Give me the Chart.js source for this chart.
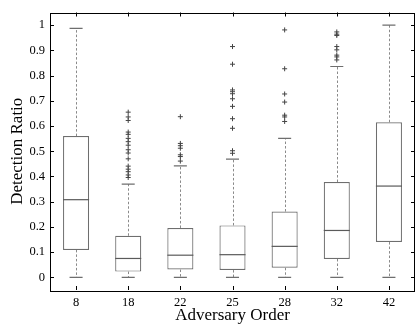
<!DOCTYPE html>
<html>
<head>
<meta charset="utf-8">
<script src="https://cdn.jsdelivr.net/npm/chart.js@4/dist/chart.umd.min.js"></script>
<style>html,body{margin:0;padding:0;background:#fff;}canvas{display:block;}</style>
</head>
<body>
<canvas id="c" width="420" height="331"></canvas>
<script>
const categories = ['8', '18', '22', '25', '28', '32', '42'];
const whiskerLow = [0, 0, 0, 0, 0, 0, 0];
const q1 = [0.109, 0.023, 0.031, 0.029, 0.038, 0.073, 0.140];
const median = [0.308, 0.075, 0.088, 0.090, 0.123, 0.186, 0.362];
const q3 = [0.560, 0.165, 0.196, 0.206, 0.261, 0.378, 0.615];
const whiskerHigh = [0.987, 0.370, 0.442, 0.469, 0.551, 0.836, 1.0];
const outliers8 = [];
const outliers18 = [0.655, 0.636, 0.622, 0.576, 0.567, 0.551, 0.538, 0.524, 0.506, 0.493, 0.470, 0.441, 0.429, 0.419, 0.406, 0.396];
const outliers22 = [0.637, 0.531, 0.522, 0.512, 0.486, 0.479, 0.461];
const outliers25 = [0.915, 0.845, 0.743, 0.736, 0.728, 0.708, 0.678, 0.629, 0.591, 0.502, 0.492];
const outliers28 = [0.981, 0.827, 0.727, 0.695, 0.643, 0.636, 0.618];
const outliers32 = [0.973, 0.964, 0.959, 0.915, 0.902, 0.881, 0.874, 0.862];
const outliers42 = [];
const yTickValues = [0, 0.1, 0.2, 0.3, 0.4, 0.5, 0.6, 0.7, 0.8, 0.9, 1];
const yTickLabels = ['0', '0.1', '0.2', '0.3', '0.4', '0.5', '0.6', '0.7', '0.8', '0.9', '1'];
const xTitle = 'Adversary Order';
const yTitle = 'Detection Ratio';

const outlierSets = [outliers8, outliers18, outliers22, outliers25, outliers28, outliers32, outliers42];
const outlierPoints = [];
outlierSets.forEach((arr, i) => arr.forEach(v => outlierPoints.push({x: categories[i], y: v})));

const FONT = "'Liberation Serif', 'Times New Roman', serif";
const BOX_COLOR = '#6e6e6e';
const WHISK_COLOR = '#8a8a8a';

const boxPlugin = {
  id: 'boxParts',
  beforeDatasetsDraw(chart) {
    const ctx = chart.ctx;
    const xs = chart.scales.x, ys = chart.scales.y;
    const meta = chart.getDatasetMeta(0);
    ctx.save();
    categories.forEach((c, i) => {
      const bar = meta.data[i];
      const x = xs.getPixelForValue(i);
      const half = bar.width / 2;
      const cap = half / 2;
      ctx.strokeStyle = WHISK_COLOR;
      ctx.lineWidth = 1;
      ctx.setLineDash([2.5, 2]);
      ctx.beginPath();
      ctx.moveTo(Math.round(x) + 0.5, ys.getPixelForValue(q3[i]));
      ctx.lineTo(Math.round(x) + 0.5, ys.getPixelForValue(whiskerHigh[i]));
      ctx.moveTo(Math.round(x) + 0.5, ys.getPixelForValue(q1[i]));
      ctx.lineTo(Math.round(x) + 0.5, ys.getPixelForValue(whiskerLow[i]));
      ctx.stroke();
      ctx.setLineDash([]);
      ctx.strokeStyle = BOX_COLOR;
      ctx.lineWidth = 1.2;
      ctx.beginPath();
      [whiskerHigh[i], whiskerLow[i]].forEach(v => {
        const y = ys.getPixelForValue(v);
        ctx.moveTo(x - cap, y);
        ctx.lineTo(x + cap, y);
      });
      ctx.stroke();
    });
    ctx.restore();
  },
  afterDatasetsDraw(chart) {
    const ctx = chart.ctx;
    const xs = chart.scales.x, ys = chart.scales.y;
    const meta = chart.getDatasetMeta(0);
    ctx.save();
    ctx.strokeStyle = '#5a5a5a';
    ctx.lineWidth = 1.2;
    categories.forEach((c, i) => {
      const bar = meta.data[i];
      const x = xs.getPixelForValue(i);
      const half = bar.width / 2;
      const y = ys.getPixelForValue(median[i]);
      ctx.beginPath();
      ctx.moveTo(x - half, y);
      ctx.lineTo(x + half, y);
      ctx.stroke();
    });
    // frame and inward ticks
    const a = chart.chartArea;
    ctx.strokeStyle = '#000';
    ctx.lineWidth = 1;
    ctx.strokeRect(Math.round(a.left) + 0.5, Math.round(a.top) + 0.5, Math.round(a.right - a.left) - 1, Math.round(a.bottom - a.top));
    ctx.beginPath();
    const tl = 4;
    yTickValues.forEach(v => {
      const y = Math.round(ys.getPixelForValue(v)) + 0.5;
      ctx.moveTo(a.left, y); ctx.lineTo(a.left + tl, y);
      ctx.moveTo(a.right, y); ctx.lineTo(a.right - tl, y);
    });
    categories.forEach((c, i) => {
      const x = Math.round(xs.getPixelForValue(i)) + 0.5;
      ctx.moveTo(x, a.top); ctx.lineTo(x, a.top + tl);
      ctx.moveTo(x, a.bottom); ctx.lineTo(x, a.bottom - tl);
    });
    ctx.stroke();
    ctx.restore();
  }
};

new Chart(document.getElementById('c'), {
  data: {
    labels: categories,
    datasets: [
      {
        type: 'bar',
        data: q1.map((v, i) => [v, q3[i]]),
        backgroundColor: '#ffffff',
        borderColor: BOX_COLOR,
        borderWidth: 1.2,
        borderSkipped: false,
        categoryPercentage: 1,
        barPercentage: 0.5,
        order: 2
      },
      {
        type: 'line',
        data: outlierPoints,
        showLine: false,
        pointStyle: 'cross',
        pointRadius: 2.5,
        pointBorderWidth: 1,
        pointBorderColor: '#444',
        pointBackgroundColor: '#444',
        order: 1
      }
    ]
  },
  plugins: [boxPlugin],
  options: {
    responsive: false,
    animation: false,
    events: [],
    layout: {padding: {top: 4, right: 1, left: 0, bottom: 0}},
    plugins: {legend: {display: false}, tooltip: {enabled: false}},
    scales: {
      x: {
        type: 'category',
        offset: true,
        grid: {display: false, drawTicks: false},
        border: {display: false},
        ticks: {color: '#000', font: {family: FONT, size: 12.5}, padding: 5, maxRotation: 0},
        title: {display: true, text: xTitle, color: '#000', font: {family: FONT, size: 17}, padding: {top: 0, bottom: 5}},
        afterFit(s) { s.height = 41; }
      },
      y: {
        type: 'linear',
        min: -0.05,
        max: 1.05,
        grid: {display: false, drawTicks: false},
        border: {display: false},
        afterBuildTicks(s) { s.ticks = yTickValues.map(v => ({value: v})); },
        ticks: {
          color: '#000', font: {family: FONT, size: 12.5}, padding: 5,
          callback(v) { const k = yTickValues.findIndex(t => Math.abs(t - v) < 1e-9); return k >= 0 ? yTickLabels[k] : ''; }
        },
        title: {display: true, text: yTitle, color: '#000', font: {family: FONT, size: 17}, padding: {top: 7, bottom: 0}},
        afterFit(s) { s.width = 50; }
      }
    }
  }
});
</script>
</body>
</html>
